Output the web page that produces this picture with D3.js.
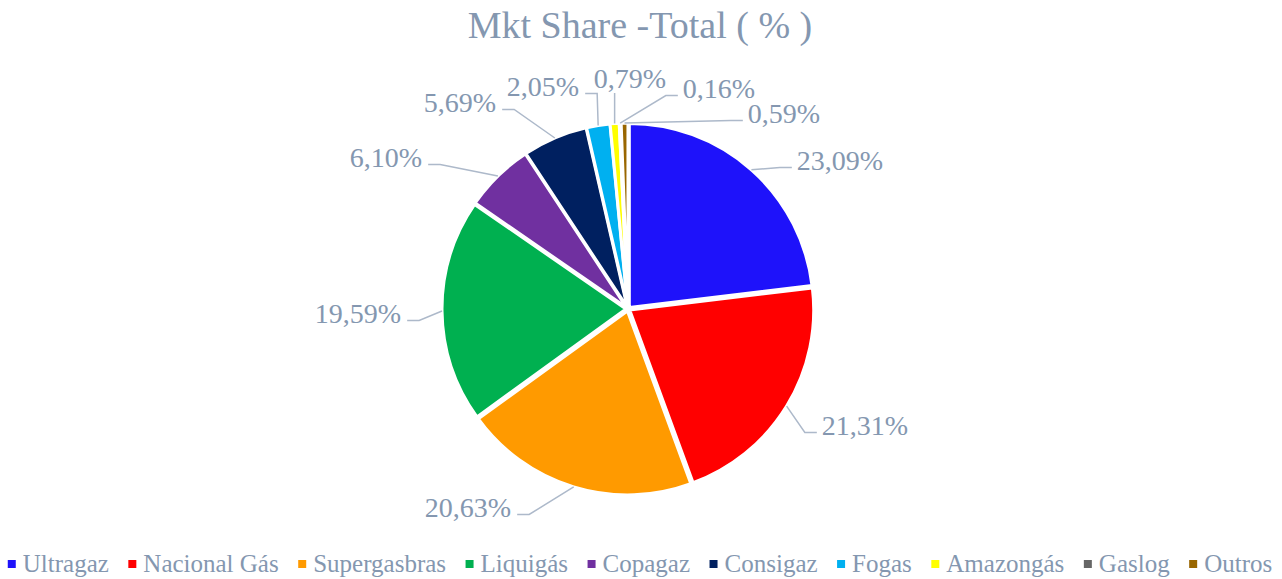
<!DOCTYPE html>
<html>
<head>
<meta charset="utf-8">
<script src="https://cdn.jsdelivr.net/npm/d3@7"></script>
<style>
  html, body { margin: 0; padding: 0; background: #fff; }
  svg { display: block; }
</style>
</head>
<body>
<svg id="chart" width="1282" height="579"></svg>
<script>
// ---- data ----
const categories = ["Ultragaz", "Nacional Gás", "Supergasbras", "Liquigás", "Copagaz", "Consigaz", "Fogas", "Amazongás", "Gaslog", "Outros"];
const values = [23.09, 21.31, 20.63, 19.59, 6.10, 5.69, 2.05, 0.79, 0.16, 0.59];
const colors = ["#1E12FA", "#FF0000", "#FF9A00", "#00B050", "#7030A0", "#002060", "#00B0F0", "#FFFF00", "#666666", "#996600"];
const title = "Mkt Share -Total ( % )";
// label centre offsets from the pie centre (layout only)
const labelOffsets = [[212, -149], [237, 116], [-160, 198], [-270, 4], [-242, -152], [-168, -207], [-85, -223], [2, -231], [91, -221], [156, -196]];

// ---- layout ----
const W = 1282, H = 579;
const cx = 628, cy = 309, R = 184, explode = 2;
const textColor = "#8497B0", leaderColor = "#ADB9CA";
const font = "'Liberation Serif', 'Times New Roman', serif";

const svg = d3.select("#chart");

svg.append("text")
  .attr("x", 640).attr("y", 38)
  .attr("text-anchor", "middle")
  .style("font-family", font).style("font-size", "38px")
  .attr("fill", textColor)
  .text(title);

const pie = d3.pie().sort(null).value(d => d);
const arcs = pie(values);
const arc = d3.arc().innerRadius(0).outerRadius(R);

const g = svg.append("g").attr("transform", `translate(${cx},${cy})`);

g.selectAll("path.slice").data(arcs).join("path")
  .attr("class", "slice")
  .attr("d", arc)
  .attr("transform", d => {
    const m = (d.startAngle + d.endAngle) / 2;
    return `translate(${explode * Math.sin(m)},${-explode * Math.cos(m)})`;
  })
  .attr("fill", (d, i) => colors[i])
  .attr("stroke", "#fff")
  .attr("stroke-width", 3)
  .attr("stroke-linejoin", "miter");

const fmt = v => d3.format(".2f")(v).replace(".", ",") + "%";

// labels
const labelG = g.append("g");
arcs.forEach((d, i) => {
  const [lx, ly] = labelOffsets[i];
  const t = labelG.append("text")
    .attr("x", lx).attr("y", ly).attr("dy", "0.34em")
    .attr("text-anchor", "middle")
    .style("font-family", font).style("font-size", "28px")
    .attr("fill", textColor)
    .text(fmt(values[i]));
  const w = t.node().getComputedTextLength();
  const m = (d.startAngle + d.endAngle) / 2;
  const sr = R + explode;
  const sx = sr * Math.sin(m), sy = -sr * Math.cos(m);
  let pts;
  if (Math.abs(lx - sx) < w / 2) {
    pts = [[sx, sy], [sx, ly + 15]];
  } else if (lx > sx) {
    const ex = lx - w / 2 - 5, ey = ly + 7.5;
    pts = [[sx, sy], [ex - 12, ey], [ex, ey]];
  } else {
    const ex = lx + w / 2 + 6, ey = ly + 7.5;
    pts = [[sx, sy], [ex + 12, ey], [ex, ey]];
  }
  labelG.insert("path", "text")
    .attr("d", d3.line()(pts))
    .attr("fill", "none")
    .attr("stroke", leaderColor)
    .attr("stroke-width", 1.5);
});

// legend
const legend = svg.append("g");
const items = legend.selectAll("g").data(categories).join("g");
items.append("rect")
  .attr("width", 8).attr("height", 8)
  .attr("y", -12)
  .attr("fill", (d, i) => colors[i]);
items.append("text")
  .attr("x", 15).attr("y", 0)
  .style("font-family", font).style("font-size", "25px")
  .attr("fill", textColor)
  .text(d => d);
const widths = [];
items.each(function () { widths.push(d3.select(this).select("text").node().getComputedTextLength() + 15); });
const gap = 19.5;
const total = d3.sum(widths) + gap * (widths.length - 1);
let x0 = 640 - total / 2;
items.attr("transform", (d, i) => {
  const x = x0;
  x0 += widths[i] + gap;
  return `translate(${x},572)`;
});
</script>
</body>
</html>
